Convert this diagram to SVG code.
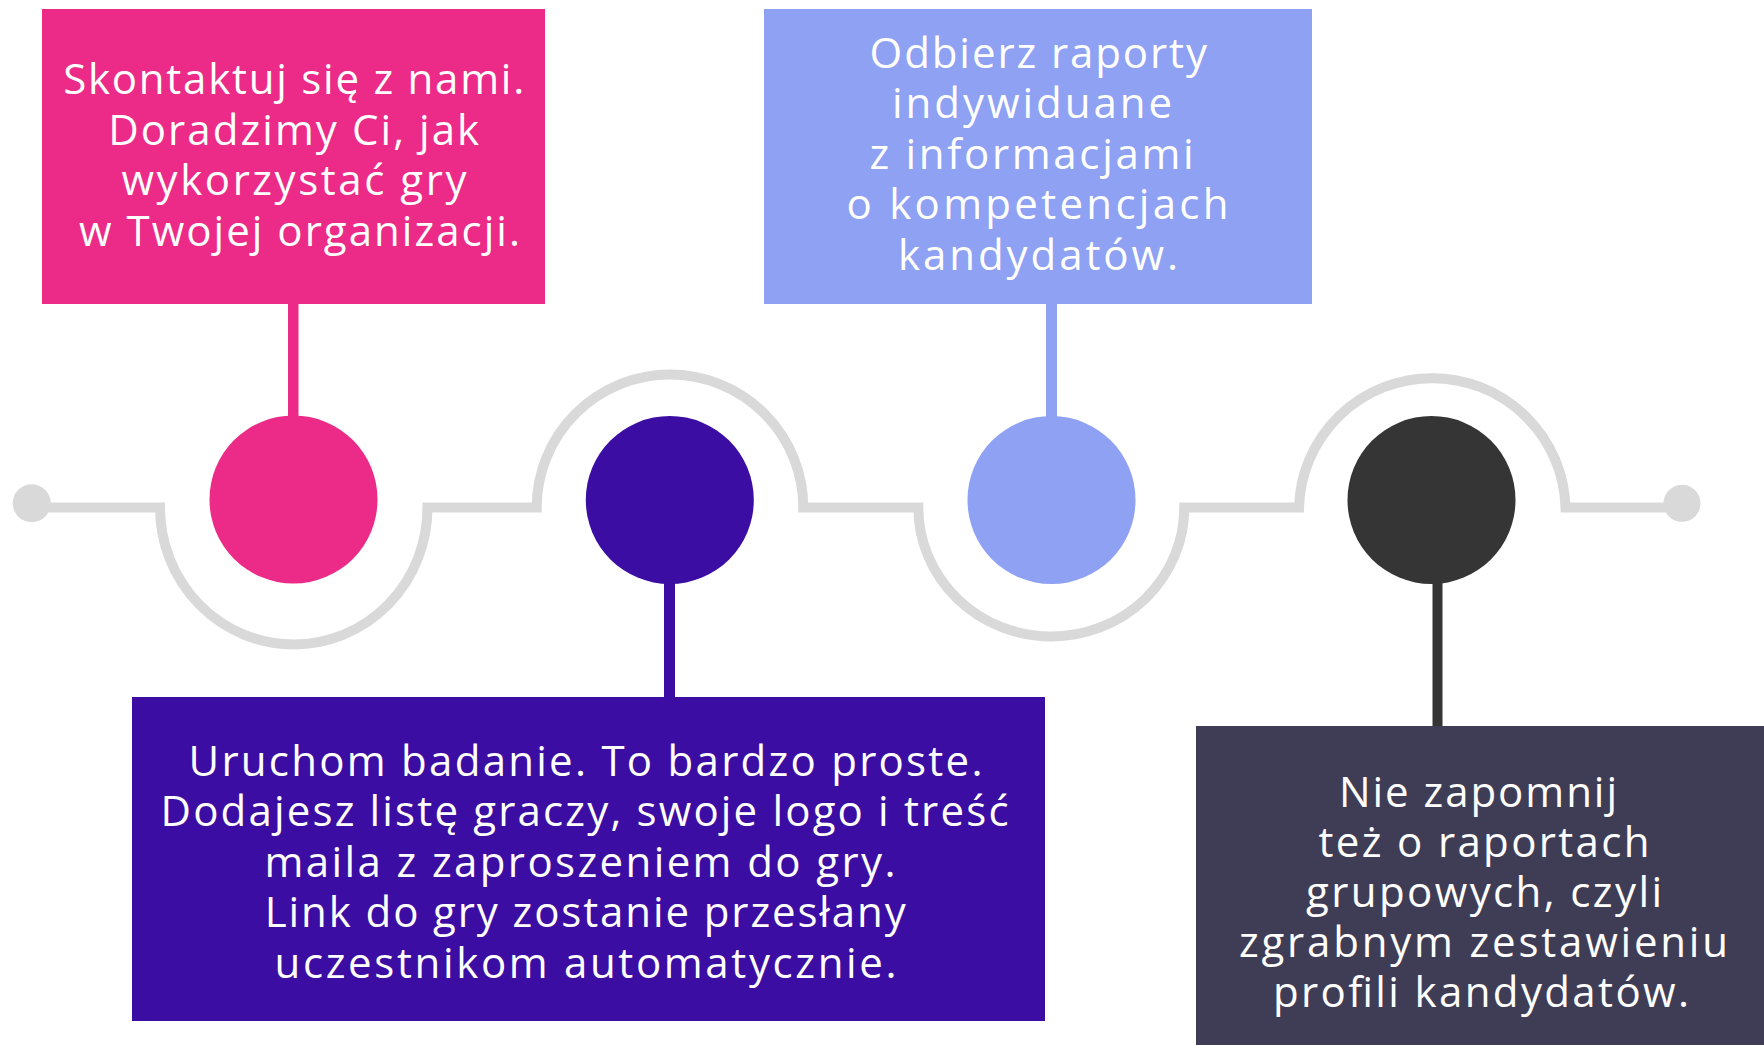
<svg xmlns="http://www.w3.org/2000/svg" width="1764" height="1045" viewBox="0 0 1764 1045">
  <style>
    .t { font-family: "Open Sans", "Noto Sans", sans-serif; font-size: 42px; fill: #ffffff; text-anchor: middle; }
    .track { fill: none; stroke: #D9D9D9; stroke-width: 10; stroke-linejoin: miter; }
    .dot { fill: #D9D9D9; }
  </style>
  <rect width="1764" height="1045" fill="#ffffff"/>
  <g id="connectors">
    <path class="track" d="M 32 507.5 H 160 A 133.75 137 0 0 0 427.5 507.5 H 536.7 A 133.3 133 0 0 1 803.3 507.5 H 918.3 A 133 129 0 0 0 1184.3 507.5 H 1299 A 133.3 133 0 0 1 1565.5 507.5 H 1682"/>
    <circle class="dot" cx="31.7" cy="503.3" r="19"/>
    <circle class="dot" cx="1682" cy="503.3" r="18.5"/>
    <rect x="288" y="300" width="10.5" height="120" fill="#EC2A87"/>
    <rect x="1046" y="300" width="11" height="120" fill="#8EA1F2"/>
    <rect x="664" y="580" width="11" height="120" fill="#3B0DA3"/>
    <rect x="1432.5" y="580" width="10" height="150" fill="#353535"/>
  </g>
  <g id="step1">
    <rect x="42" y="9" width="503" height="295" fill="#EC2A87"/>
    <circle cx="293.5" cy="499.5" r="84" fill="#EC2A87"/>
    <text class="t" x="293.7" y="94" textLength="461">Skontaktuj się z nami.</text>
    <text class="t" x="293.7" y="144.5" textLength="371">Doradzimy Ci, jak</text>
    <text class="t" x="294" y="195" textLength="345">wykorzystać gry</text>
    <text class="t" x="299.5" y="245.5" textLength="441">w Twojej organizacji.</text>
  </g>
  <g id="step2">
    <rect x="132" y="697" width="913" height="324" fill="#3B0DA3"/>
    <circle cx="669.8" cy="500" r="84" fill="#3B0DA3"/>
    <text class="t" x="585.5" y="776" textLength="794">Uruchom badanie. To bardzo proste.</text>
    <text class="t" x="584.5" y="826.4" textLength="848">Dodajesz listę graczy, swoje logo i treść</text>
    <text class="t" x="580" y="876.8" textLength="631">maila z zaproszeniem do gry.</text>
    <text class="t" x="585.3" y="927.2" textLength="641">Link do gry zostanie przesłany</text>
    <text class="t" x="585.6" y="977.6" textLength="622">uczestnikom automatycznie.</text>
  </g>
  <g id="step3">
    <rect x="764" y="9" width="548" height="295" fill="#8EA1F2"/>
    <circle cx="1051.5" cy="500" r="84" fill="#8EA1F2"/>
    <text class="t" x="1038.3" y="68" textLength="337.5">Odbierz raporty</text>
    <text class="t" x="1032" y="118.4" textLength="280">indywiduane</text>
    <text class="t" x="1031.6" y="168.8" textLength="324">z informacjami</text>
    <text class="t" x="1037.5" y="219.2" textLength="382">o kompetencjach</text>
    <text class="t" x="1038" y="269.6" textLength="280">kandydatów.</text>
  </g>
  <g id="step4">
    <rect x="1196" y="726" width="568" height="319" fill="#3F3D56"/>
    <circle cx="1431.5" cy="500" r="84" fill="#353535"/>
    <text class="t" x="1478" y="807" textLength="278">Nie zapomnij</text>
    <text class="t" x="1484" y="857" textLength="331">też o raportach</text>
    <text class="t" x="1484" y="907" textLength="356">grupowych, czyli</text>
    <text class="t" x="1483.5" y="957" textLength="489">zgrabnym zestawieniu</text>
    <text class="t" x="1481" y="1007" textLength="416">profili kandydatów.</text>
  </g>
</svg>
